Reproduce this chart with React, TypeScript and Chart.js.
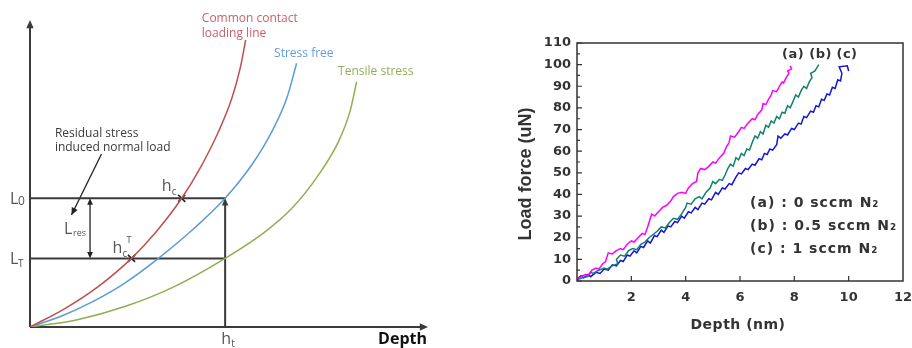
import React, { useEffect, useRef } from 'react';
import { Chart, registerables } from 'chart.js';

Chart.register(...registerables);

// ---------- Left schematic (arbitrary units: depth 0..100, load 0..100) ----------
const redCurve: [number, number][] = [[0, 0], [8.5, 5.8], [17, 13.0], [25.7, 22.5], [32, 31.3], [38.4, 42.2], [43.5, 53.1], [47.7, 64.0], [51.1, 75.0], [53.2, 84.8], [54.6, 94.1]];
const blueCurve: [number, number][] = [[0, 0], [8, 3.6], [16, 8.4], [24, 14.4], [32.5, 22.5], [41, 31.7], [49.4, 42.2], [56.1, 53.1], [61.2, 64.0], [65.0, 75.0], [67.5, 86.5]];
const greenCurve: [number, number][] = [[0, 0], [12, 2.4], [24, 6.7], [36, 12.9], [49.4, 22.5], [59.5, 31.2], [66.3, 38.9], [73, 49.8], [78.1, 60.8], [81, 70.6], [82.7, 80.4]];
const L0 = 42.2;
const LT = 22.5;
const HT = 49.4;
const LRES_X = 15.2;
const crossMarks: [number, number][] = [[38.4, 42.2], [25.7, 22.5]];
const residualArrow: [number, number][] = [[18.1, 56.7], [10.5, 36.7]];
const curveLabels = ['Common contact', 'loading line', 'Stress free', 'Tensile stress'];
const residualLabel = ['Residual stress', 'induced normal load'];

// ---------- Right chart data (depth nm, load uN) ----------
const seriesA: [number, number][] = [[0.0, 1], [0.15, 2], [0.3, 3], [0.4, 2.5], [0.55, 5], [0.7, 6], [0.8, 5.5], [0.95, 8], [1.05, 9], [1.15, 13], [1.3, 12.5], [1.45, 14], [1.6, 15], [1.7, 14.5], [1.85, 17], [2.0, 18.5], [2.1, 18], [2.25, 20], [2.4, 22], [2.5, 21.5], [2.6, 25], [2.7, 29], [2.75, 31], [2.85, 30], [3.0, 32], [3.15, 34], [3.3, 35], [3.45, 37], [3.55, 39], [3.7, 40.5], [3.85, 41], [4.0, 40.5], [4.1, 43], [4.25, 45], [4.4, 46], [4.45, 50], [4.55, 52], [4.7, 51.5], [4.85, 53], [5.0, 55], [5.1, 54.5], [5.25, 57], [5.4, 59], [5.5, 62], [5.6, 64], [5.65, 67], [5.8, 66.5], [5.95, 69], [6.05, 71], [6.15, 70.5], [6.3, 73], [6.45, 75], [6.55, 74.5], [6.65, 77], [6.8, 79], [6.85, 82], [6.95, 81.5], [7.05, 84], [7.15, 86], [7.2, 88], [7.35, 87.5], [7.45, 90], [7.55, 92], [7.6, 91.5], [7.7, 94], [7.8, 96], [7.75, 97], [7.9, 98], [7.85, 99.5]];
const seriesB: [number, number][] = [[0.0, 0.5], [0.2, 1.5], [0.4, 2], [0.5, 4], [0.6, 3.5], [0.8, 5], [1.0, 6], [1.1, 5.5], [1.3, 7], [1.5, 8], [1.45, 10], [1.6, 12], [1.75, 11.5], [1.9, 14], [2.05, 15], [2.2, 14.5], [2.35, 17], [2.5, 18], [2.65, 20], [2.8, 21.5], [2.95, 23], [3.1, 25], [3.25, 24.5], [3.4, 27], [3.55, 29], [3.7, 28.5], [3.85, 31], [4.0, 34], [4.05, 36], [4.2, 35.5], [4.35, 38], [4.5, 39], [4.6, 38], [4.75, 41], [4.9, 43], [5.0, 46], [5.1, 45], [5.25, 47], [5.35, 46.5], [5.45, 49], [5.55, 52], [5.65, 54], [5.75, 53], [5.85, 57], [5.95, 56], [6.05, 59], [6.15, 58], [6.25, 61], [6.35, 60.5], [6.45, 64], [6.55, 67], [6.65, 66], [6.75, 69], [6.85, 68], [6.95, 72], [7.05, 71], [7.15, 74], [7.25, 73], [7.35, 76], [7.45, 75], [7.55, 78], [7.65, 77.5], [7.75, 81], [7.85, 80], [7.95, 83], [8.05, 86], [8.15, 85], [8.25, 88], [8.35, 90], [8.45, 89], [8.55, 92], [8.65, 94], [8.6, 96], [8.75, 97], [8.85, 99], [8.9, 100]];
const seriesC: [number, number][] = [[0, 1], [0.15, 2.5], [0.25, 1.5], [0.4, 3], [0.5, 2], [0.7, 4], [0.85, 3.5], [1.0, 5.5], [1.15, 5], [1.3, 7.5], [1.45, 7], [1.6, 9.5], [1.7, 9], [1.85, 12], [1.95, 11.5], [2.1, 14], [2.2, 13], [2.35, 16], [2.45, 15.5], [2.6, 18.5], [2.7, 17.5], [2.85, 21], [2.95, 20.5], [3.1, 23.5], [3.2, 22.5], [3.35, 25.5], [3.45, 25], [3.6, 27.5], [3.7, 27], [3.85, 30], [3.95, 29], [4.1, 32], [4.2, 31.5], [4.35, 34], [4.45, 33], [4.6, 36], [4.7, 35.5], [4.85, 38], [4.95, 37.5], [5.1, 41], [5.2, 40], [5.35, 43], [5.45, 42.5], [5.6, 45], [5.7, 44.5], [5.85, 48], [5.95, 50], [6.05, 49.5], [6.2, 52], [6.3, 51.5], [6.45, 54], [6.55, 53.5], [6.7, 56.5], [6.8, 56], [6.9, 59], [7.0, 58.5], [7.1, 61], [7.2, 60.5], [7.35, 63], [7.4, 67], [7.5, 66], [7.65, 68], [7.75, 67.5], [7.9, 70.5], [8.0, 70], [8.15, 73], [8.25, 72.5], [8.35, 76], [8.45, 75.5], [8.6, 78.5], [8.7, 78], [8.8, 81], [8.9, 80.5], [9.0, 84], [9.1, 83.5], [9.2, 86.5], [9.3, 86], [9.4, 89.5], [9.5, 89], [9.6, 93], [9.7, 92.5], [9.75, 96], [9.65, 99], [9.95, 99.5], [10.0, 97]];
const seriesLabels = ['(a)', '(b)', '(c)'];
const legendLines = ['(a) : 0 sccm N₂', '(b) : 0.5 sccm N₂', '(c) : 1 sccm N₂'];
const yTickStep = 10;
const xTickStep = 2;

const toXY = (arr: [number, number][]) => arr.map(([x, y]) => ({ x, y }));

function arrowHead(ctx: CanvasRenderingContext2D, x1: number, y1: number, x2: number, y2: number, size: number, color: string) {
  const a = Math.atan2(y2 - y1, x2 - x1);
  ctx.save();
  ctx.fillStyle = color;
  ctx.beginPath();
  ctx.moveTo(x2, y2);
  ctx.lineTo(x2 - size * Math.cos(a - 0.42), y2 - size * Math.sin(a - 0.42));
  ctx.lineTo(x2 - size * Math.cos(a + 0.42), y2 - size * Math.sin(a + 0.42));
  ctx.closePath();
  ctx.fill();
  ctx.restore();
}

const LEFT_FONT = '"Open Sans", "Noto Sans", sans-serif';

function LeftChart() {
  const ref = useRef<HTMLCanvasElement>(null);
  useEffect(() => {
    const axisColor = '#3a3a3a';
    const plugin = {
      id: 'schematic',
      beforeDatasetsDraw(chart: any) {
        const ctx = chart.ctx as CanvasRenderingContext2D;
        const xs = chart.scales.x, ys = chart.scales.y;
        const x0 = xs.getPixelForValue(0), y0 = ys.getPixelForValue(0);
        const yTop = ys.getPixelForValue(100) - 2;
        const xEnd = xs.getPixelForValue(100) + 3;
        ctx.save();
        ctx.strokeStyle = axisColor;
        ctx.lineWidth = 2;
        ctx.beginPath();
        ctx.moveTo(x0, y0); ctx.lineTo(x0, yTop + 5);
        ctx.moveTo(x0, y0); ctx.lineTo(xEnd - 5, y0);
        ctx.stroke();
        ctx.restore();
        arrowHead(ctx, x0, y0, x0, yTop, 9, axisColor);
        arrowHead(ctx, x0, y0, xEnd, y0, 9, axisColor);
      },
      afterDatasetsDraw(chart: any) {
        const ctx = chart.ctx as CanvasRenderingContext2D;
        const xs = chart.scales.x, ys = chart.scales.y;
        const px = (v: number) => xs.getPixelForValue(v);
        const py = (v: number) => ys.getPixelForValue(v);
        arrowHead(ctx, px(HT), py(0), px(HT), py(L0), 8, axisColor);
        arrowHead(ctx, px(LRES_X), py(LT), px(LRES_X), py(L0), 7, '#222');
        arrowHead(ctx, px(LRES_X), py(L0), px(LRES_X), py(LT), 7, '#222');
        arrowHead(ctx, px(residualArrow[0][0]), py(residualArrow[0][1]), px(residualArrow[1][0]), py(residualArrow[1][1]), 8, '#222');

        ctx.save();
        ctx.textBaseline = 'alphabetic';
        ctx.textAlign = 'left';
        ctx.font = `12px ${LEFT_FONT}`;
        ctx.fillStyle = '#c8606c';
        ctx.fillText(curveLabels[0], px(43.5), py(101.3) + 4);
        ctx.fillText(curveLabels[1], px(43.5), py(96.4) + 4);
        ctx.fillStyle = '#5f9ee0';
        ctx.fillText(curveLabels[2], px(61.8), py(89.8) + 4);
        ctx.fillStyle = '#8fae5a';
        ctx.fillText(curveLabels[3], px(78.0), py(83.9) + 4);
        ctx.fillStyle = '#3a3a3a';
        ctx.fillText(residualLabel[0], px(6.3), py(63.6) + 4);
        ctx.fillText(residualLabel[1], px(6.3), py(59.0) + 4);

        const gray = '#555';
        ctx.fillStyle = gray;
        const x0 = px(0);
        ctx.font = `16px ${LEFT_FONT}`;
        ctx.fillText('L', x0 - 20, py(L0) + 6);
        ctx.font = `12px ${LEFT_FONT}`;
        ctx.fillText('0', x0 - 12, py(L0) + 7);
        ctx.font = `16px ${LEFT_FONT}`;
        ctx.fillText('L', x0 - 20, py(LT) + 6);
        ctx.font = `10px ${LEFT_FONT}`;
        ctx.fillText('T', x0 - 12, py(LT) + 9);
        const midRes = (py(L0) + py(LT)) / 2;
        ctx.font = `16px ${LEFT_FONT}`;
        ctx.fillText('L', px(LRES_X) - 26, midRes + 6);
        ctx.font = `9px ${LEFT_FONT}`;
        ctx.fillText('res', px(LRES_X) - 17, midRes + 8);
        const hc = crossMarks[0], hcT = crossMarks[1];
        ctx.font = `16px ${LEFT_FONT}`;
        ctx.fillText('h', px(hc[0]) - 20, py(hc[1]) - 7);
        ctx.font = `10px ${LEFT_FONT}`;
        ctx.fillText('c', px(hc[0]) - 10, py(hc[1]) - 3);
        ctx.font = `16px ${LEFT_FONT}`;
        ctx.fillText('h', px(hcT[0]) - 19, py(hcT[1]) - 5);
        ctx.font = `10px ${LEFT_FONT}`;
        ctx.fillText('c', px(hcT[0]) - 9, py(hcT[1]) - 1);
        ctx.font = `9px ${LEFT_FONT}`;
        ctx.fillText('T', px(hcT[0]) - 5, py(hcT[1]) - 15);
        ctx.font = `16px ${LEFT_FONT}`;
        ctx.fillText('h', px(HT) - 4, py(0) + 17);
        ctx.font = `10px ${LEFT_FONT}`;
        ctx.fillText('t', px(HT) + 6, py(0) + 20);
        ctx.fillStyle = '#111';
        ctx.font = `bold 16px ${LEFT_FONT}`;
        ctx.textAlign = 'right';
        ctx.fillText('Depth', px(100) + 2, py(0) + 17);
        ctx.restore();
      },
    };

    const lineStyle = (color: string, width: number) => ({
      borderColor: color, borderWidth: width, pointRadius: 0, fill: false,
    });
    const chart = new Chart(ref.current!, {
      type: 'line',
      data: {
        datasets: [
          { data: toXY(redCurve), ...lineStyle('#c0504d', 1.5), cubicInterpolationMode: 'monotone' },
          { data: toXY(blueCurve), ...lineStyle('#5b9bd5', 1.5), cubicInterpolationMode: 'monotone' },
          { data: toXY(greenCurve), ...lineStyle('#8faf52', 1.5), cubicInterpolationMode: 'monotone' },
          { data: [{ x: 0, y: L0 }, { x: HT, y: L0 }], ...lineStyle('#3a3a3a', 2) },
          { data: [{ x: 0, y: LT }, { x: HT, y: LT }], ...lineStyle('#3a3a3a', 2) },
          { data: [{ x: HT, y: 0 }, { x: HT, y: L0 - 1.5 }], ...lineStyle('#3a3a3a', 2) },
          { data: [{ x: LRES_X, y: LT + 1.5 }, { x: LRES_X, y: L0 - 1.5 }], ...lineStyle('#222', 1.3) },
          { data: toXY(residualArrow), ...lineStyle('#222', 1.3) },
          {
            data: toXY(crossMarks), showLine: false, pointStyle: 'crossRot', pointRadius: 5,
            pointBorderColor: '#222', pointBorderWidth: 1.6, borderColor: '#222',
          } as any,
        ] as any,
      },
      options: {
        responsive: false,
        animation: false,
        events: [],
        layout: { padding: { left: 30, right: 15, top: 22, bottom: 21 } },
        plugins: { legend: { display: false }, tooltip: { enabled: false } },
        scales: {
          x: { type: 'linear', min: 0, max: 100, display: false },
          y: { type: 'linear', min: 0, max: 100, display: false },
        },
      },
      plugins: [plugin],
    } as any);
    return () => chart.destroy();
  }, []);
  return <canvas ref={ref} width={440} height={348} style={{ width: 440, height: 348, display: 'block' }} />;
}

const RIGHT_FONT = '"DejaVu Sans", sans-serif';

function RightChart() {
  const ref = useRef<HTMLCanvasElement>(null);
  useEffect(() => {
    const ink = '#333';
    const plugin = {
      id: 'frameAndText',
      afterDatasetsDraw(chart: any) {
        const ctx = chart.ctx as CanvasRenderingContext2D;
        const { left, right, top, bottom } = chart.chartArea;
        const xs = chart.scales.x, ys = chart.scales.y;
        ctx.save();
        ctx.strokeStyle = ink;
        ctx.lineWidth = 1.5;
        ctx.strokeRect(left, top, right - left, bottom - top);
        ctx.lineWidth = 1.2;
        ctx.beginPath();
        for (let v = 0; v <= 110; v += yTickStep / 2) {
          const y = ys.getPixelForValue(v);
          const len = v % yTickStep === 0 ? 5 : 3;
          ctx.moveTo(left, y); ctx.lineTo(left + len, y);
        }
        for (let v = xTickStep; v < 12; v += xTickStep) {
          const x = xs.getPixelForValue(v);
          ctx.moveTo(x, bottom); ctx.lineTo(x, bottom - 5);
        }
        ctx.stroke();

        ctx.fillStyle = ink;
        ctx.font = `bold 18px "Liberation Sans", Arial, sans-serif`;
        ctx.textAlign = 'center';
        ctx.textBaseline = 'middle';
        ctx.save();
        ctx.translate(left - 51, (top + bottom) / 2 + 12);
        ctx.rotate(-Math.PI / 2);
        ctx.fillText('Load force (uN)', 0, 0);
        ctx.restore();
        ctx.font = `bold 14px ${RIGHT_FONT}`;
        (ctx as any).letterSpacing = '0.5px';
        ctx.fillText('Depth (nm)', (left + right) / 2 - 2, bottom + 44);

        ctx.textAlign = 'left';
        ctx.font = `bold 13px ${RIGHT_FONT}`;
        (ctx as any).letterSpacing = '0.5px';
        const labelY = ys.getPixelForValue(104.4);
        const labelXs = [7.55, 8.55, 9.55];
        seriesLabels.forEach((s, i) => ctx.fillText(s, xs.getPixelForValue(labelXs[i]), labelY));

        ctx.font = `bold 14px ${RIGHT_FONT}`;
        (ctx as any).letterSpacing = '1px';
        const legendYs = [36.0, 25.4, 14.8];
        legendLines.forEach((s, i) => ctx.fillText(s, xs.getPixelForValue(6.37), ys.getPixelForValue(legendYs[i])));
        ctx.restore();
      },
    };

    const tickFont = { family: RIGHT_FONT, weight: 'bold', size: 13 };
    const chart = new Chart(ref.current!, {
      type: 'line',
      data: {
        datasets: [
          { data: toXY(seriesA), borderColor: '#ff00ff', borderWidth: 1.5, pointRadius: 0, tension: 0 },
          { data: toXY(seriesB), borderColor: '#11806f', borderWidth: 1.5, pointRadius: 0, tension: 0 },
          { data: toXY(seriesC), borderColor: '#1414d8', borderWidth: 1.5, pointRadius: 0, tension: 0 },
        ],
      },
      options: {
        responsive: false,
        animation: false,
        events: [],
        layout: { padding: { left: 0, right: 9, top: 43, bottom: 0 } },
        plugins: { legend: { display: false }, tooltip: { enabled: false } },
        scales: {
          x: {
            type: 'linear', min: 0, max: 12,
            grid: { display: false, drawTicks: false },
            border: { display: false },
            ticks: {
              stepSize: xTickStep, autoSkip: false, maxRotation: 0, color: ink, padding: 9, font: tickFont,
              callback: (v: any) => (v === 0 ? '' : String(v)),
            },
            afterFit: (s: any) => { s.height = 67; s.paddingRight = 0; s.paddingLeft = 0; },
          },
          y: {
            type: 'linear', min: 0, max: 110,
            grid: { display: false, drawTicks: false },
            border: { display: false },
            ticks: { stepSize: yTickStep, autoSkip: false, color: ink, padding: 6, font: tickFont },
            afterFit: (s: any) => { s.width = 137; s.paddingTop = 0; s.paddingBottom = 0; },
          },
        },
      },
      plugins: [plugin],
    } as any);
    return () => chart.destroy();
  }, []);
  return <canvas ref={ref} width={472} height={348} style={{ width: 472, height: 348, display: 'block' }} />;
}

export default function App() {
  return (
    <div style={{ position: 'absolute', left: 0, top: 0, width: 912, height: 348, display: 'flex', background: '#fff' }}>
      <LeftChart />
      <RightChart />
    </div>
  );
}
